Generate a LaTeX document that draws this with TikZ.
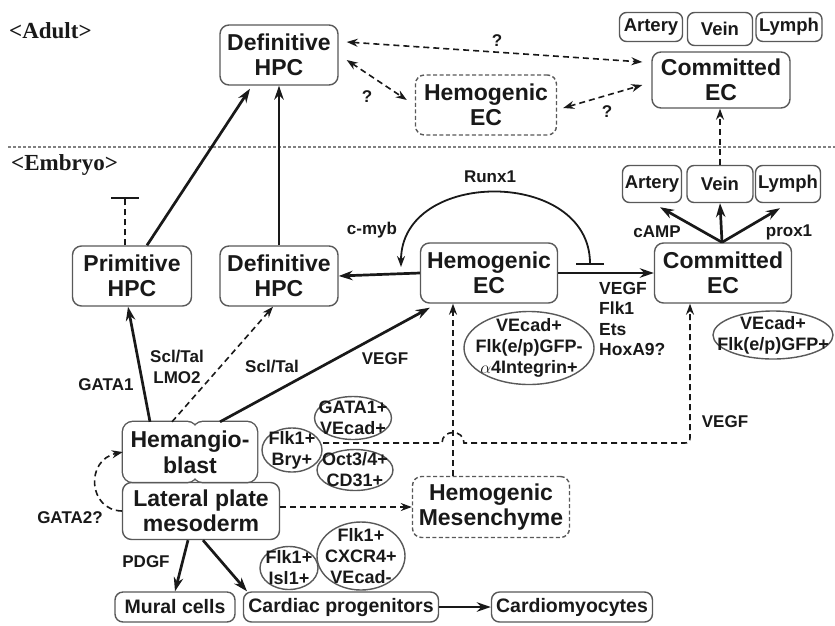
\documentclass[tikz,border=0pt]{standalone}
\usepackage{fontspec}
\setmainfont{Liberation Sans}
\newfontfamily\titlefont{Liberation Serif}
\usetikzlibrary{arrows.meta,shapes.geometric}
\definecolor{txt}{gray}{0.1}
\definecolor{ln}{gray}{0.1}
\definecolor{boxc}{gray}{0.35}
\begin{document}
\begin{tikzpicture}[x=1pt,y=-1pt,
  cbox/.style={draw=boxc, line width=1.4pt, rounded corners=9pt, align=center, inner sep=0pt,
    font=\bfseries\fontsize{23}{25.5}\selectfont, text=txt},
  dbox/.style={cbox, dash pattern=on 4pt off 2.5pt},
  sbox/.style={cbox, rounded corners=7pt, font=\bfseries\fontsize{18.5}{20}\selectfont},
  bbox/.style={cbox, rounded corners=8pt, font=\bfseries\fontsize{19.5}{22}\selectfont},
  oval/.style={ellipse, draw=boxc, line width=1.4pt, inner sep=0pt},
  otext/.style={font=\bfseries\fontsize{18}{21}\selectfont, text=txt, inner sep=0pt, align=center},
  lab/.style={font=\bfseries\fontsize{17}{20.5}\selectfont, text=txt, inner sep=0pt, align=center},
  thk/.style={line width=2.7pt, draw=ln, -{Stealth[length=14pt,width=9.5pt]}},
  dsh/.style={line width=1.6pt, draw=ln, dash pattern=on 6pt off 4pt},
  oneh/.style={-{Stealth[length=11pt,width=8pt]}},
  twoh/.style={{Stealth[length=11pt,width=8pt]}-{Stealth[length=11pt,width=8pt]}},
]
\useasboundingbox (0,0) rectangle (835,625);
\fill[white] (0,0) rectangle (835,625);

% titles and separator
\node[anchor=west, font=\titlefont\bfseries\fontsize{23}{26}\selectfont, text=txt, inner sep=0pt] (adult) at (9,31) {<Adult>};
\node[anchor=west, font=\titlefont\bfseries\fontsize{23}{26}\selectfont, text=txt, inner sep=0pt] (embryo) at (11,165) {<Embryo>};
\draw[gray, line width=1.2pt, dash pattern=on 2.5pt off 2.5pt] (8,147) -- (835,147);

% adult nodes
\node[cbox, minimum width=118pt, minimum height=60pt] (dhpcA) at (279,55) {Definitive\\HPC};
\node[dbox, minimum width=141pt, minimum height=60pt] (hecA) at (486,105) {Hemogenic\\EC};
\node[cbox, minimum width=138pt, minimum height=56pt] (cecA) at (721,80) {Committed\\EC};
\node[sbox, minimum width=63pt, minimum height=29pt] (artA) at (651,27) {Artery};
\node[sbox, minimum width=65pt, minimum height=33pt] (veinA) at (720,29) {Vein};
\node[sbox, minimum width=66pt, minimum height=29pt] (lymA) at (789,27) {Lymph};

% embryo nodes
\node[cbox, minimum width=119pt, minimum height=60pt] (phpc) at (132,276) {Primitive\\HPC};
\node[cbox, minimum width=118pt, minimum height=60pt] (dhpcE) at (279,276) {Definitive\\HPC};
\node[cbox, minimum width=137pt, minimum height=60pt] (hecE) at (489,273) {Hemogenic\\EC};
\node[cbox, minimum width=137pt, minimum height=60pt] (cecE) at (723,273) {Committed\\EC};
\node[sbox, minimum width=59pt, minimum height=37pt] (artE) at (652,184) {Artery};
\node[sbox, minimum width=66pt, minimum height=37pt] (veinE) at (720,184) {Vein};
\node[sbox, minimum width=65pt, minimum height=37pt] (lymE) at (788,184) {Lymph};

% hemangioblast (two merged lobes)
\draw[draw=boxc, line width=2.8pt, rounded corners=10pt] (123,422) rectangle (197,482) (193,422) rectangle (257,482);
\fill[white, rounded corners=10pt] (123,422) rectangle (197,482) (193,422) rectangle (257,482);
\node[align=center, inner sep=0pt, font=\bfseries\fontsize{23}{26}\selectfont, text=txt,
  minimum width=134pt, minimum height=60pt] (hemangio) at (190,452) {Hemangio-\\blast};

\node[cbox, minimum width=157pt, minimum height=57pt] (lpm) at (201,511) {Lateral plate\\mesoderm};
\node[dbox, minimum width=157pt, minimum height=61pt] (hmes) at (491,507) {Hemogenic\\Mesenchyme};
\node[bbox, minimum width=120pt, minimum height=30pt] (mural) at (175,607) {Mural cells};
\node[bbox, minimum width=195pt, minimum height=30pt] (cardprog) at (341,607) {Cardiac progenitors};
\node[bbox, minimum width=161pt, minimum height=30pt] (cardio) at (572,607) {Cardiomyocytes};

% ellipses
\node[oval, minimum width=130pt, minimum height=73pt] (e1) at (529,348) {};
\node[otext] at (e1) {VEcad+\\Flk(e/p)GFP-\\$\alpha$4Integrin+};
\node[oval, minimum width=120pt, minimum height=48pt] (e2) at (773,335) {};
\node[otext] at (e2) {VEcad+\\Flk(e/p)GFP+};
\node[oval, minimum width=60pt, minimum height=44pt] (e3) at (292,450) {};
\node[otext] at (e3) {Flk1+\\Bry+};
\node[oval, minimum width=77pt, minimum height=43pt] (e4) at (353,418) {};
\node[otext] at (e4) {GATA1+\\VEcad+};
\node[oval, minimum width=76pt, minimum height=41pt] (e5) at (355,470) {};
\node[otext] at (e5) {Oct3/4+\\CD31+};
\node[oval, minimum width=58pt, minimum height=43pt] (e6) at (289,568) {};
\node[otext] at (e6) {Flk1+\\Isl1+};
\node[oval, minimum width=88pt, minimum height=68pt] (e7) at (361,556) {};
\node[otext] at (e7) {Flk1+\\CXCR4+\\VEcad-};

% adult connectors
\draw[dsh,twoh] ([xshift=8pt,yshift=13pt]dhpcA.east) -- ([xshift=-9pt,yshift=18pt]cecA.west);
\node[lab] (q1) at (497,41) {?};
\draw[dsh,twoh] ([xshift=8pt,yshift=-5pt]dhpcA.east) -- ([xshift=-8pt,yshift=5pt]hecA.west);
\node[lab] (q2) at (367,97) {?};
\draw[dsh,twoh] ([xshift=6pt,yshift=-3pt]hecA.east) -- ([xshift=-9pt,yshift=-5pt]cecA.west);
\node[lab] (q3) at (607,112) {?};
\draw[dsh,oneh] (veinE.north) -- (veinE.north |- cecA.south);

% embryo connectors
\draw[thk] ([xshift=15pt]phpc.north) -- ([xshift=-29pt,yshift=-3pt]dhpcA.south);
\draw[thk] (dhpcE.north) -- (dhpcE.north |- dhpcA.south);
\coordinate (tb) at (125,197);
\draw[dsh, -{Bar[width=28pt,line width=2pt]}] (phpc.north -| tb) -- (tb);
\draw[thk] (hecE.west) -- (dhpcE.east);
\draw[thk] (hecE.east) -- (cecE.west);

\coordinate (rxs) at (590,265);
\coordinate (rxe) at (401,267);
\draw[line width=1.8pt, draw=ln, {Bar[width=28pt,line width=2pt]}-{Stealth[length=11pt,width=8pt]}]
  (rxs) .. controls (590,168) and (401,168) .. (rxe);
\node[lab] (runx) at (490,177) {Runx1};
\node[lab] (cmyb) at (372,230) {c-myb};

\draw[thk] ([xshift=-1pt]cecE.north) -- ([xshift=8pt,yshift=-4pt]artE.south);
\draw[thk] ([xshift=-1pt]cecE.north) -- (veinE.south);
\draw[thk] ([xshift=-1pt]cecE.north) -- ([xshift=-8pt,yshift=-5pt]lymE.south);
\node[lab] (camp) at (657,232) {cAMP};
\node[lab] (prox) at (789,232) {prox1};

\node[anchor=north west, font=\bfseries\fontsize{17.5}{20.5}\selectfont, text=txt, inner sep=0pt, align=left] (vlist) at (599,282) {VEGF\\Flk1\\Ets\\HoxA9?};

\draw[thk] ([xshift=-40pt]hemangio.north) -- ([xshift=-4pt]phpc.south);
\draw[dsh,oneh] ([xshift=-18pt]hemangio.north) -- ([xshift=-6pt]dhpcE.south);
\draw[thk] ([xshift=30pt]hemangio.north) -- ([xshift=10pt,yshift=-4pt]hecE.south west);
\node[lab] (lgata1) at (106,385) {GATA1};
\node[lab] (lscl1) at (177,367) {Scl/Tal\\LMO2};
\node[lab] (lscl2) at (272,367) {Scl/Tal};
\node[lab] (lvegf1) at (385,359) {VEGF};

% dashed line with hop to committed EC
\coordinate (hs) at (323,443);
\coordinate (vc) at (690,443);
\draw[dsh,oneh] (hs) -- (442,443) .. controls (442,429) and (464,429) .. (464,443)
  -- (682,443) .. controls (690,443) .. (690,435) -- (vc |- cecE.south);
\node[lab] (lvegf2) at (725,422) {VEGF};

\coordinate (vx) at (453,0);
\draw[dsh,oneh] (hmes.north -| vx) -- (hecE.south -| vx);
\draw[dsh,oneh] (hmes.west -| lpm.east) -- (hmes.west);
\draw[dsh,oneh] (lpm.west) .. controls (88,510) and (85,460) .. (hemangio.west);
\node[lab] (lgata2) at (70,518) {GATA2?};

\draw[thk] ([xshift=-13pt]lpm.south) -- (mural.north);
\draw[thk] ([xshift=2pt]lpm.south) -- ([xshift=-94pt]cardprog.north);
\node[lab] (lpdgf) at (146,562) {PDGF};
\draw[thk] (cardprog.east) -- (cardio.west);
\end{tikzpicture}
\end{document}
